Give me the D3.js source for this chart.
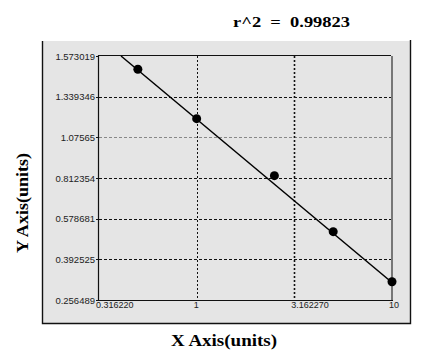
<!DOCTYPE html>
<html>
<head>
<meta charset="utf-8">
<script src="https://cdn.jsdelivr.net/npm/d3@7"></script>
<style>
  body { margin: 0; background: #fff; }
  svg { display: block; }
</style>
</head>
<body>
<div id="chart"></div>
<script>
// standard points
var xVals = [0.5, 1, 2.5, 5, 10];
var yVals = [1.4966, 1.1967, 0.8273, 0.5191, 0.3177];

// fitted line ends
var fitX = [0.41, 10];
var fitY = [1.573019, 0.3150];

var xTicks = [0.31622, 1, 3.16227, 10];
var xTickLabels = ['0.316220', '1', '3.162270', '10'];
var yTicks = [0.256489, 0.392525, 0.578681, 0.812354, 1.07565, 1.339346, 1.573019];
var yTickLabels = ['0.256489', '0.392525', '0.578681', '0.812354', '1.07565', '1.339346', '1.573019'];

var rsq = 'r^2  =  0.99823';

(() => {
  var width = 427, height = 362;
  var left = 99, right = 392, top = 56, bottom = 300;

  var svg = d3.select('#chart')
    .append('svg')
    .attr('width', width)
    .attr('height', height);

  var x = d3.scaleLog()
    .domain([0.31622, 10])
    .range([left, right]);

  // y ticks are evenly spaced on screen, so map them piecewise
  var y = d3.scaleLinear()
    .domain(yTicks)
    .range(yTicks.map((d, i) => bottom - i * (bottom - top) / (yTicks.length - 1)));

  // panel
  svg.append('rect')
    .attr('x', 42).attr('y', 41)
    .attr('width', 369).attr('height', 283)
    .attr('fill', '#e5e5e5');
  svg.append('path')
    .attr('d', 'M42.5,41V323.5H410.5V40')
    .attr('fill', 'none')
    .attr('stroke', '#111')
    .attr('stroke-width', 1.4);

  // grid
  svg.append('g')
    .selectAll('line')
    .data(yTicks.slice(1, -1))
    .enter()
      .append('line')
      .attr('x1', left).attr('x2', right)
      .attr('y1', d => Math.round(y(d)) + 0.5)
      .attr('y2', d => Math.round(y(d)) + 0.5)
      .attr('stroke', d => d === 1.07565 ? '#888' : '#111')
      .attr('stroke-dasharray', '3,2');

  svg.append('g')
    .selectAll('line')
    .data(xTicks.slice(1, -1))
    .enter()
      .append('line')
      .attr('y1', top).attr('y2', bottom)
      .attr('x1', d => Math.round(x(d)) + 0.5)
      .attr('x2', d => Math.round(x(d)) + 0.5)
      .attr('stroke', '#111')
      .attr('stroke-width', d => d > 2 ? 1.6 : 1)
      .attr('stroke-dasharray', '2,2');

  // plot frame
  svg.append('line')
    .attr('x1', right).attr('x2', right)
    .attr('y1', top).attr('y2', bottom)
    .attr('stroke', '#777').attr('stroke-width', 2);
  svg.append('path')
    .attr('d', 'M' + (right - 1) + ',' + (top - 0.5) + 'H' + (left - 0.5) + 'V' + (bottom + 0.5) + 'H' + (right + 1))
    .attr('fill', 'none')
    .attr('stroke', '#111')
    .attr('stroke-width', 1.2);

  // y ticks + labels
  var yg = svg.append('g');
  yg.selectAll('line')
    .data(yTicks)
    .enter()
      .append('line')
      .attr('x1', left - 3).attr('x2', left)
      .attr('y1', d => Math.round(y(d)) + 0.5)
      .attr('y2', d => Math.round(y(d)) + 0.5)
      .attr('stroke', '#111');
  yg.selectAll('text')
    .data(yTicks)
    .enter()
      .append('text')
      .attr('x', left - 4)
      .attr('y', d => y(d) + 3.5)
      .attr('text-anchor', 'end')
      .attr('font-family', 'Liberation Sans, Arial, sans-serif')
      .attr('font-size', 9.5)
      .attr('fill', '#222')
      .text((d, i) => yTickLabels[i]);

  // x labels
  svg.append('g')
    .selectAll('text')
    .data(xTicks)
    .enter()
      .append('text')
      .attr('x', d => x(d) - 3)
      .attr('y', 308)
      .attr('font-family', 'Liberation Sans, Arial, sans-serif')
      .attr('font-size', 9)
      .attr('fill', '#222')
      .text((d, i) => xTickLabels[i]);

  // fit line
  var line = d3.line()
    .x(d => x(d[0]))
    .y(d => y(d[1]));
  svg.append('path')
    .datum(fitX.map((d, i) => [d, fitY[i]]))
    .attr('d', line)
    .attr('fill', 'none')
    .attr('stroke', '#000')
    .attr('stroke-width', 1.5);

  // points
  svg.append('g')
    .selectAll('circle')
    .data(xVals)
    .enter()
      .append('circle')
      .attr('cx', d => x(d))
      .attr('cy', (d, i) => y(yVals[i]))
      .attr('r', 4.5)
      .attr('fill', '#000');

  // titles
  svg.append('text')
    .attr('x', 233).attr('y', 27)
    .attr('font-family', 'Liberation Serif, Times New Roman, serif')
    .attr('font-weight', 'bold')
    .attr('font-size', 15)
    .attr('textLength', 117)
    .attr('lengthAdjust', 'spacingAndGlyphs')
    .style('white-space', 'pre')
    .text(rsq);

  svg.append('text')
    .attr('x', 171).attr('y', 346)
    .attr('font-family', 'Liberation Serif, Times New Roman, serif')
    .attr('font-weight', 'bold')
    .attr('font-size', 16)
    .attr('textLength', 106)
    .attr('lengthAdjust', 'spacingAndGlyphs')
    .text('X Axis(units)');

  svg.append('text')
    .attr('transform', 'translate(28,253) rotate(-90)')
    .attr('font-family', 'Liberation Serif, Times New Roman, serif')
    .attr('font-weight', 'bold')
    .attr('font-size', 16)
    .attr('textLength', 100)
    .attr('lengthAdjust', 'spacingAndGlyphs')
    .text('Y Axis(units)');
})();
</script>
</body>
</html>
